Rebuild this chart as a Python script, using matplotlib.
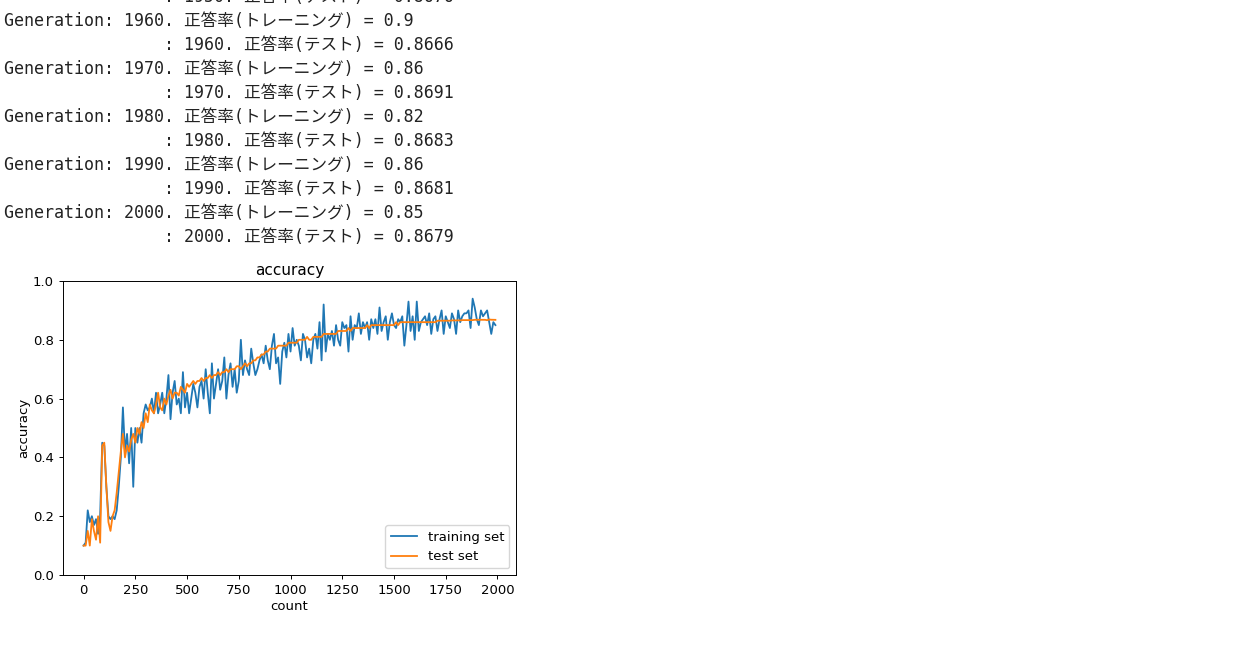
import numpy as np
import matplotlib
matplotlib.use("Agg")
import matplotlib.pyplot as plt

# Log lines printed above the chart
log_lines = [
    "                : 1950. 正答率(テスト) = 0.8676",
    "Generation: 1960. 正答率(トレーニング) = 0.9",
    "                : 1960. 正答率(テスト) = 0.8666",
    "Generation: 1970. 正答率(トレーニング) = 0.86",
    "                : 1970. 正答率(テスト) = 0.8691",
    "Generation: 1980. 正答率(トレーニング) = 0.82",
    "                : 1980. 正答率(テスト) = 0.8683",
    "Generation: 1990. 正答率(トレーニング) = 0.86",
    "                : 1990. 正答率(テスト) = 0.8681",
    "Generation: 2000. 正答率(トレーニング) = 0.85",
    "                : 2000. 正答率(テスト) = 0.8679",
]

# accuracy sampled every 10 counts
count = np.arange(0, 2000, 10)
acc_train = [
    0.10, 0.11, 0.22, 0.18, 0.20, 0.17, 0.19, 0.14, 0.20, 0.45, 0.44, 0.30, 0.20, 0.19, 0.20, 0.19, 0.22, 0.30, 0.40, 0.57,
    0.42, 0.48, 0.38, 0.50, 0.30, 0.50, 0.45, 0.50, 0.45, 0.55, 0.58, 0.56, 0.57, 0.60, 0.55, 0.62, 0.55, 0.58, 0.62, 0.55,
    0.60, 0.68, 0.53, 0.62, 0.66, 0.58, 0.60, 0.55, 0.69, 0.57, 0.62, 0.55, 0.60, 0.65, 0.62, 0.57, 0.64, 0.66, 0.60, 0.70,
    0.62, 0.55, 0.72, 0.60, 0.65, 0.70, 0.63, 0.66, 0.74, 0.60, 0.68, 0.72, 0.64, 0.70, 0.62, 0.66, 0.80, 0.68, 0.73, 0.70,
    0.68, 0.77, 0.72, 0.68, 0.70, 0.73, 0.75, 0.72, 0.78, 0.73, 0.70, 0.78, 0.82, 0.72, 0.74, 0.65, 0.76, 0.79, 0.74, 0.82,
    0.76, 0.84, 0.78, 0.80, 0.78, 0.73, 0.82, 0.80, 0.74, 0.77, 0.72, 0.80, 0.82, 0.77, 0.86, 0.73, 0.92, 0.76, 0.82, 0.80,
    0.83, 0.78, 0.85, 0.80, 0.78, 0.86, 0.84, 0.85, 0.76, 0.88, 0.80, 0.85, 0.84, 0.89, 0.82, 0.86, 0.84, 0.86, 0.80, 0.87,
    0.84, 0.87, 0.82, 0.91, 0.83, 0.86, 0.88, 0.80, 0.86, 0.89, 0.85, 0.84, 0.87, 0.86, 0.88, 0.78, 0.85, 0.93, 0.83, 0.88,
    0.80, 0.93, 0.83, 0.86, 0.87, 0.88, 0.85, 0.89, 0.82, 0.87, 0.88, 0.83, 0.87, 0.90, 0.82, 0.88, 0.86, 0.84, 0.89, 0.87,
    0.82, 0.90, 0.86, 0.88, 0.89, 0.89, 0.90, 0.84, 0.94, 0.91, 0.87, 0.85, 0.90, 0.88, 0.89, 0.90, 0.86, 0.82, 0.86, 0.85,
]
acc_test = [
    0.10, 0.10, 0.15, 0.10, 0.19, 0.15, 0.12, 0.20, 0.11, 0.44, 0.45, 0.30, 0.18, 0.15, 0.20, 0.22, 0.28, 0.35, 0.42, 0.48,
    0.40, 0.44, 0.42, 0.46, 0.48, 0.45, 0.50, 0.48, 0.52, 0.50, 0.55, 0.52, 0.58, 0.56, 0.55, 0.58, 0.62, 0.57, 0.56, 0.60,
    0.58, 0.61, 0.63, 0.60, 0.62, 0.62, 0.61, 0.64, 0.63, 0.62, 0.65, 0.64, 0.65, 0.66, 0.65, 0.66, 0.66, 0.67, 0.66, 0.67,
    0.67, 0.68, 0.67, 0.68, 0.68, 0.69, 0.68, 0.69, 0.69, 0.70, 0.69, 0.70, 0.70, 0.70, 0.71, 0.71, 0.70, 0.71, 0.72, 0.71,
    0.72, 0.72, 0.73, 0.73, 0.74, 0.74, 0.75, 0.75, 0.76, 0.76, 0.77, 0.77, 0.77, 0.77, 0.78, 0.78, 0.78, 0.78, 0.78, 0.79,
    0.79, 0.79, 0.79, 0.79, 0.80, 0.80, 0.80, 0.80, 0.81, 0.80, 0.80, 0.81, 0.81, 0.81, 0.81, 0.81, 0.82, 0.82, 0.82, 0.82,
    0.82, 0.82, 0.82, 0.83, 0.83, 0.83, 0.83, 0.83, 0.84, 0.83, 0.84, 0.84, 0.84, 0.84, 0.84, 0.84, 0.84, 0.85, 0.84, 0.85,
    0.85, 0.85, 0.85, 0.85, 0.85, 0.85, 0.85, 0.85, 0.85, 0.85, 0.85, 0.86, 0.85, 0.86, 0.86, 0.86, 0.86, 0.86, 0.86, 0.86,
    0.86, 0.86, 0.86, 0.86, 0.86, 0.86, 0.86, 0.86, 0.86, 0.86, 0.86, 0.865, 0.865, 0.865, 0.865, 0.865, 0.865, 0.865, 0.866, 0.866,
    0.866, 0.866, 0.866, 0.867, 0.867, 0.867, 0.867, 0.867, 0.867, 0.868, 0.868, 0.868, 0.868, 0.868, 0.868, 0.8666, 0.8691, 0.8683, 0.8681, 0.8679,
]

W, H = 1259, 648
fig = plt.figure(figsize=(W / 100, H / 100), dpi=100)

# log text, monospace with CJK fallback
for i, line in enumerate(log_lines):
    y = -3 + 24 * i
    fig.text(4 / W, 1 - y / H, line, ha="left", va="center", fontsize=12,
             family=["DejaVu Sans Mono", "Noto Sans CJK JP"], color="#222222")

ax = fig.add_axes([63 / W, (H - 575) / H, 453 / W, 294 / H])
ax.plot(count, acc_train, label="training set", lw=1.3)
ax.plot(count, acc_test, label="test set", lw=1.3)
ax.set_ylim(0, 1.0)
ax.set_xticks([0, 250, 500, 750, 1000, 1250, 1500, 1750, 2000])
ax.tick_params(labelsize=9.5, length=3, width=0.7)
for s in ax.spines.values():
    s.set_linewidth(0.7)
ax.set_title("accuracy", fontsize=11, pad=4)
ax.set_xlabel("count", fontsize=9.5, labelpad=2)
ax.set_ylabel("accuracy", fontsize=9.5, labelpad=2)
ax.legend(loc="lower right", fontsize=9.5)

fig.savefig("out.png", dpi=100)
